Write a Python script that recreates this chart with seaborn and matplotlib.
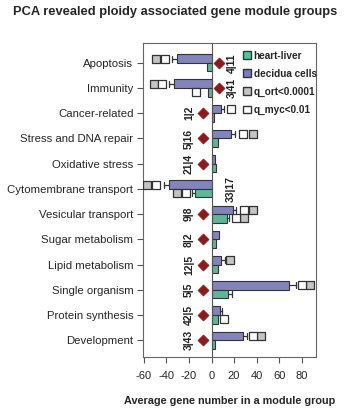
import numpy as np
import pandas as pd
import matplotlib
matplotlib.use("Agg")
import matplotlib.pyplot as plt
from matplotlib.patches import Patch
import seaborn as sns

categories = ["Apoptosis", "Immunity", "Cancer-related", "Stress and DNA repair",
              "Oxidative stress", "Cytomembrane transport", "Vesicular transport",
              "Sugar metabolism", "Lipid metabolism", "Single organism",
              "Protein synthesis", "Development"]

decidua = [-30.5, -33, 8.2, 17.6, 3.2, -37.3, 19, 7, 8.8, 68.2, 7.3, 27.8]
decidua_err = [-35, -37.5, 11, 20.5, np.nan, -42, 22, np.nan, 11.5, 74.4, 9, 31.6]
decidua_ort = [-49, -51, np.nan, 36.6, np.nan, -57, 36.3, np.nan, 16.4, 87.3, np.nan, 44.2]
decidua_myc = [-41, -43.7, 17, 28, np.nan, -49, 28.7, np.nan, np.nan, 79.7, np.nan, 36.9]

heart = [-4, -3, 2, 5.3, 3.8, -14.7, 13.5, 4, 5.5, 14.9, 5.8, 3.5]
heart_err = [np.nan, np.nan, np.nan, np.nan, np.nan, -17.6, 15.8, np.nan, np.nan, 18.5, np.nan, np.nan]
heart_ort = [np.nan, np.nan, np.nan, np.nan, np.nan, -30.8, 28.7, np.nan, np.nan, np.nan, np.nan, np.nan]
heart_myc = [np.nan, -14, np.nan, np.nan, np.nan, -23, 21.4, np.nan, np.nan, np.nan, 11.1, np.nan]

ratio_labels = ["4|11", "3|41", "1|2", "5|16", "21|4", "33|17", "9|8", "8|2",
                "12|5", "5|5", "42|5", "3|43"]
ratio_x = [17.6, 17.6, -20, -20, -20, 17, -20, -20, -20, -20, -20, -20]
diamond_x = [7, 7, -7.5, -7.5, -7.5, np.nan, -7.5, -7.5, -7.5, -7.5, -7.5, -7.5]

purple = "#7a7ac6"
teal = "#4cc69c"
gray = "#c4c4c4"
edge = "#333333"

sns.set_style("white")
plt.rcParams['font.family'] = ['Liberation Sans', 'DejaVu Sans']

fig = plt.figure(figsize=(3.5, 4.09), dpi=100)
ax = fig.add_axes([0.409, 0.127, 0.494, 0.768])

df = pd.DataFrame({
    "category": categories * 2,
    "value": decidua + heart,
    "tissue": ["decidua cells"] * len(categories) + ["heart-liver"] * len(categories),
})
sns.barplot(data=df, y="category", x="value", hue="tissue", orient="h",
            order=categories, hue_order=["decidua cells", "heart-liver"],
            palette={"decidua cells": purple, "heart-liver": teal},
            width=0.68, edgecolor=edge, linewidth=0.8, errorbar=None,
            legend=False, ax=ax)

ypos = np.arange(len(categories))
off = 0.17
for vals, err, ort, myc, dy in [(decidua, decidua_err, decidua_ort, decidua_myc, -off),
                                (heart, heart_err, heart_ort, heart_myc, off)]:
    for i in range(len(categories)):
        y = ypos[i] + dy
        if not np.isnan(err[i]):
            ax.plot([vals[i], err[i]], [y, y], color=edge, lw=0.9, zorder=3)
            ax.plot([err[i], err[i]], [y - 0.12, y + 0.12], color=edge, lw=0.9, zorder=3)
    sns.scatterplot(x=ort, y=ypos + dy, marker="s", s=32, color=gray,
                    edgecolor=edge, linewidth=0.9, ax=ax, zorder=4, legend=False)
    sns.scatterplot(x=myc, y=ypos + dy, marker="s", s=32, color="white",
                    edgecolor=edge, linewidth=0.9, ax=ax, zorder=4, legend=False)

sns.scatterplot(x=diamond_x, y=ypos, marker="D", s=32, color="#8b1a1a",
                edgecolor="#8b1a1a", ax=ax, zorder=4, legend=False)

for i, lab in enumerate(ratio_labels):
    ax.text(ratio_x[i], ypos[i], lab, rotation=90, ha="center", va="center",
            fontsize=7.5, fontweight="bold", color="#222222")

ax.axvline(0, color="#555555", lw=0.8, zorder=2)
ax.set_xlim(-60.5, 92.5)
ax.set_ylim(len(categories) - 0.33, -0.79)
ax.set_xticks([-60, -40, -20, 0, 20, 40, 60, 80])
ax.set_xticklabels(["-60", "-40", "-20", "0", "20", "40", "60", "80"], fontsize=8)
ax.set_yticks(ypos)
ax.set_yticklabels(categories, fontsize=8.2)
ax.tick_params(axis="x", direction="out", length=4, width=0.8, color="#555555",
               bottom=True, pad=6)
ax.tick_params(axis="y", direction="out", length=4, width=0.8, color="#555555",
               left=True, pad=3)
ax.set_xlabel("Average gene number in a module group", fontsize=7.8,
              fontweight="bold", labelpad=11)
ax.set_ylabel("")
for s in ax.spines.values():
    s.set_color("#666666")
    s.set_linewidth(0.8)

handles = [
    Patch(facecolor=teal, edgecolor=edge, label="heart-liver"),
    Patch(facecolor=purple, edgecolor=edge, label="decidua cells"),
    Patch(facecolor=gray, edgecolor=edge, label="q_ort<0.0001"),
    Patch(facecolor="white", edgecolor=edge, label="q_myc<0.01"),
]
leg = ax.legend(handles=handles, loc="upper left", frameon=False,
                fontsize=7.2, handlelength=0.8, handleheight=0.8,
                handletextpad=0.3, labelspacing=0.8, borderaxespad=0.0,
                borderpad=0.0, bbox_to_anchor=(0.575, 0.975))
for t in leg.get_texts():
    t.set_fontweight("bold")

fig.text(0.5, 0.97, "PCA revealed ploidy associated gene module groups",
         ha="center", va="center", fontsize=9.3, fontweight="bold")

fig.savefig("out.png", dpi=100)
